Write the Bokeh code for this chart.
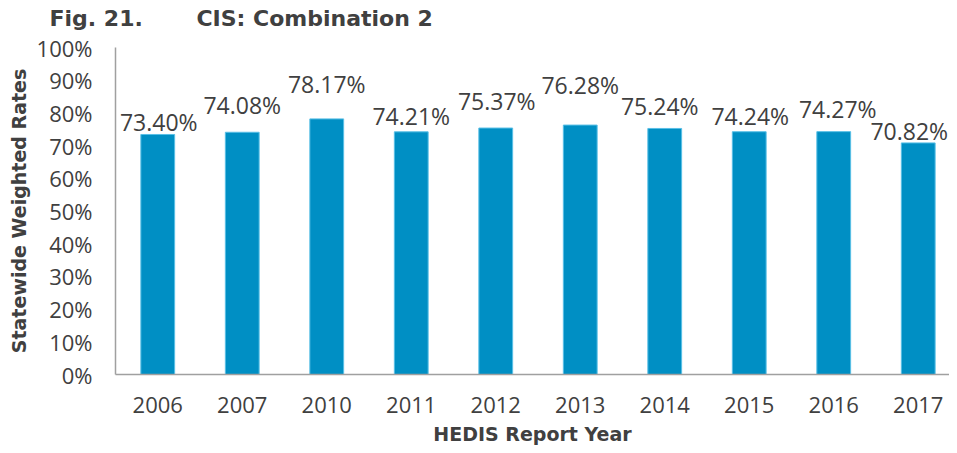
from bokeh.plotting import figure
from bokeh.models import (Range1d, FixedTicker, PrintfTickFormatter, Title,
                          LabelSet, ColumnDataSource)
from bokeh.core.properties import value
from bokeh.embed import file_html
from bokeh.resources import INLINE

# ---- data ----
years = ["2006", "2007", "2010", "2011", "2012", "2013", "2014", "2015", "2016", "2017"]
rates = [73.40, 74.08, 78.17, 74.21, 75.37, 76.28, 75.24, 74.24, 74.27, 70.82]
rate_labels = ["73.40%", "74.08%", "78.17%", "74.21%", "75.37%",
               "76.28%", "75.24%", "74.24%", "74.27%", "70.82%"]
y_ticks = [0, 10, 20, 30, 40, 50, 60, 70, 80, 90, 100]

# data-label placement nudges (pixels), as the original layout staggered them
label_dy = [12, 27, 35, 16, 27, 40, 22, 16, 23, 12]
label_dx = [1, 0, 0, 0, 1, 0, -5, 1, 4, -9]

TEXT = "#404040"
FONT = "Open Sans"
BOLD = "DejaVu Sans"

idx = list(range(len(years)))
src = ColumnDataSource(dict(x=idx, top=rates, lab=rate_labels, dy=label_dy, dx=label_dx))

p = figure(width=949, height=447, output_backend="svg", toolbar_location=None,
           x_range=Range1d(-0.5, 9.37), y_range=Range1d(0, 100),
           min_border_left=115, min_border_right=0, min_border_top=46,
           min_border_bottom=73)
p.outline_line_color = None
p.xgrid.visible = False
p.ygrid.visible = False
p.background_fill_color = "white"
p.border_fill_color = "white"

p.vbar(x="x", top="top", width=0.4, bottom=0, source=src,
       fill_color="#008FC4", line_color="#58BFE6", line_width=1)

labels = LabelSet(x="x", y="top", text="lab", source=src, x_offset="dx", y_offset="dy",
                  text_align="center", text_baseline="middle",
                  text_font=value(FONT), text_font_size="23px", text_color=TEXT)
p.add_layout(labels)

# x axis
xa = p.xaxis[0]
xa.ticker = FixedTicker(ticks=idx)
xa.major_label_overrides = {i: y for i, y in zip(idx, years)}
xa.major_tick_line_color = None
xa.minor_tick_line_color = None
xa.major_tick_out = 0
xa.minor_tick_out = 0
xa.major_tick_in = 0
xa.axis_line_color = "#A0A0A0"
xa.axis_line_width = 1.5
xa.major_label_text_font = FONT
xa.major_label_text_font_size = "22px"
xa.major_label_text_color = TEXT
xa.major_label_standoff = 22
xa.axis_label = "HEDIS Report Year"
xa.axis_label_text_font = BOLD
xa.axis_label_text_font_style = "bold"
xa.axis_label_text_font_size = "19px"
xa.axis_label_text_color = TEXT
xa.axis_label_standoff = 7

# y axis
ya = p.yaxis[0]
ya.ticker = FixedTicker(ticks=y_ticks)
ya.formatter = PrintfTickFormatter(format="%d%%")
ya.major_tick_line_color = None
ya.minor_tick_line_color = None
ya.major_tick_out = 0
ya.minor_tick_out = 0
ya.major_tick_in = 0
ya.axis_line_color = "#A0A0A0"
ya.axis_line_width = 1.5
ya.major_label_text_font = FONT
ya.major_label_text_font_size = "22px"
ya.major_label_text_color = TEXT
ya.major_label_standoff = 23
ya.axis_label = "Statewide Weighted Rates"
ya.axis_label_text_font = BOLD
ya.axis_label_text_font_style = "bold"
ya.axis_label_text_font_size = "19px"
ya.axis_label_text_color = TEXT
ya.axis_label_standoff = 4

# thin spacer between the frame and the title, then the title itself
spacer = Title(text="\u00a0", text_font_size="1px", standoff=11, text_color="white")
p.add_layout(spacer, "above")
title = Title(text="Fig. 21.\u00a0\u00a0\u00a0\u00a0\u00a0\u00a0\u00a0CIS: Combination 2",
              text_font=BOLD, text_font_style="bold", text_font_size="22px",
              text_color=TEXT, align="left", offset=-66, standoff=6)
p.add_layout(title, "above")

open("out.html", "w").write(file_html(p, INLINE))
